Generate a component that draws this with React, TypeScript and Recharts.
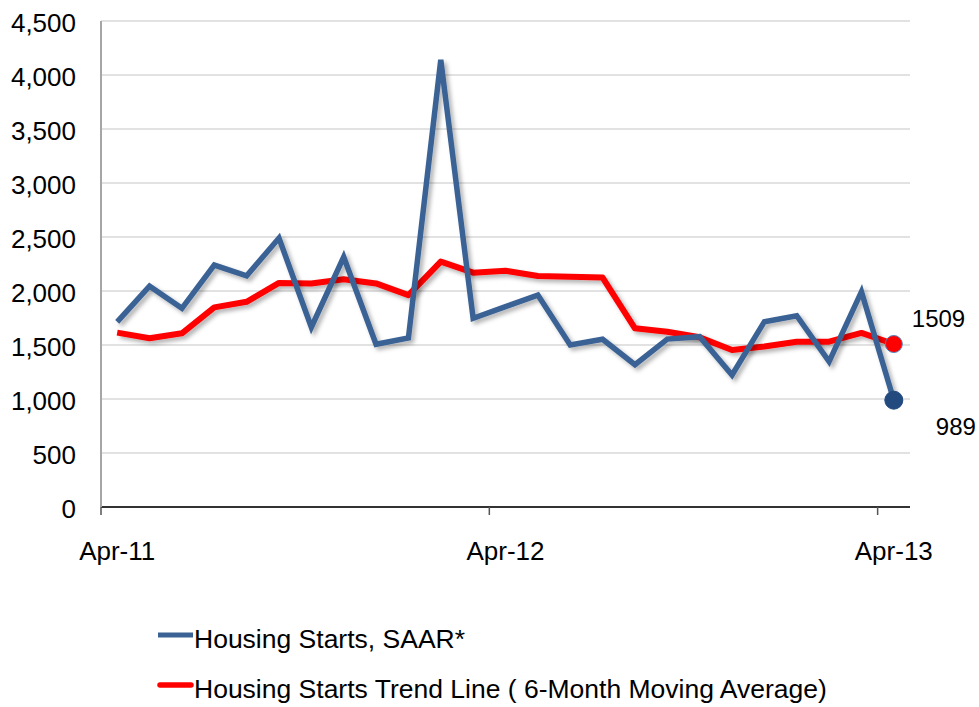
import React from 'react';
import { LineChart, Line, XAxis, YAxis, CartesianGrid } from 'recharts';

const months: string[] = [
  'Apr-11', 'May-11', 'Jun-11', 'Jul-11', 'Aug-11', 'Sep-11', 'Oct-11', 'Nov-11', 'Dec-11',
  'Jan-12', 'Feb-12', 'Mar-12', 'Apr-12', 'May-12', 'Jun-12', 'Jul-12', 'Aug-12', 'Sep-12',
  'Oct-12', 'Nov-12', 'Dec-12', 'Jan-13', 'Feb-13', 'Mar-13', 'Apr-13',
];
const housingStarts: number[] = [
  1715, 2045, 1840, 2240, 2140, 2490, 1665, 2315, 1507, 1565, 4140, 1747, 1855,
  1962, 1500, 1553, 1318, 1555, 1577, 1222, 1716, 1771, 1346, 1994, 989,
];
const trendLine: number[] = [
  1615, 1562, 1608, 1848, 1900, 2075, 2070, 2108, 2070, 1962, 2272, 2170, 2188,
  2139, 2133, 2124, 1655, 1622, 1571, 1454, 1486, 1530, 1531, 1612, 1509,
];
const xTicks: string[] = ['Apr-11', 'Apr-12', 'Apr-13'];
const yTicks: number[] = [0, 500, 1000, 1500, 2000, 2500, 3000, 3500, 4000, 4500];
const seriesNames: string[] = ['Housing Starts, SAAR*', 'Housing Starts Trend Line ( 6-Month Moving Average)'];

const data = months.map((m, i) => ({ month: m, starts: housingStarts[i], trend: trendLine[i] }));

const W = 979;
const H = 707;
const M = { top: 21, right: 69, left: 0, bottom: 140 };
const Y_W = 101;
const X_H = 60;
const plotW = W - M.left - M.right - Y_W;
const band = plotW / months.length;
const FONT = '"Liberation Sans", Arial, Helvetica, sans-serif';
const BLUE = '#3B6295';
const RED = '#FF0000';
const last = months.length - 1;

const XTick = (props: any) => {
  const { x, y, payload } = props;
  return (
    <g>
      <line x1={x - band / 2} x2={x - band / 2} y1={y} y2={y + 8} stroke="#555" strokeWidth={1.5} />
      <text x={x} y={y + 53} textAnchor="middle" fontSize={26} fontFamily={FONT} fill="#000">
        {payload.value}
      </text>
    </g>
  );
};

const YTick = (props: any) => {
  const { x, y, payload } = props;
  return (
    <text x={x} y={y + 11} textAnchor="end" fontSize={26} fontFamily={FONT} fill="#000">
      {Number(payload.value).toLocaleString('en-US')}
    </text>
  );
};

const makeDot = (fill: string, stroke: string, r: number) => (props: any) => {
  const { cx, cy, index } = props;
  if (index !== last) return <g key={`d-${index}`} />;
  return <circle key={`d-${index}`} cx={cx} cy={cy} r={r} fill={fill} stroke={stroke} strokeWidth={1} />;
};

const makeLabel = (dx: number, dy: number) => (props: any) => {
  const { x, y, value, index } = props;
  if (index !== last) return <g key={`l-${index}`} />;
  return (
    <text key={`l-${index}`} x={x + dx} y={y + dy} fontSize={24} fontFamily={FONT} fill="#000" dominantBaseline="central">
      {value}
    </text>
  );
};

export default function App() {
  return (
    <div style={{ position: 'absolute', left: 0, top: 0, width: W, height: H, background: '#fff' }}>
      <LineChart width={W} height={H} data={data} margin={M}>
        <defs>
          <filter id="lineShadow" x="-10%" y="-10%" width="120%" height="130%">
            <feDropShadow dx={3} dy={3} stdDeviation={2} floodColor="#000" floodOpacity={0.3} />
          </filter>
        </defs>
        <CartesianGrid vertical={false} stroke="#D9D9D9" strokeWidth={1.5} />
        <XAxis
          dataKey="month"
          scale="band"
          ticks={xTicks}
          interval={0}
          height={X_H}
          tickLine={false}
          tickSize={0}
          tickMargin={0}
          axisLine={{ stroke: '#333', strokeWidth: 2 }}
          tick={<XTick />}
        />
        <YAxis
          domain={[0, 4500]}
          ticks={yTicks}
          width={Y_W}
          tickLine={false}
          tickSize={0}
          tickMargin={25}
          axisLine={{ stroke: '#A6A6A6', strokeWidth: 2 }}
          tick={<YTick />}
          interval={0}
        />
        <Line
          type="linear"
          dataKey="trend"
          stroke={RED}
          strokeWidth={6}
          strokeLinejoin="round"
          filter="url(#lineShadow)"
          dot={makeDot(RED, '#4F81BD', 8.5)}
          activeDot={false}
          label={makeLabel(18, -26)}
          isAnimationActive={false}
        />
        <Line
          type="linear"
          dataKey="starts"
          stroke={BLUE}
          strokeWidth={5.5}
          filter="url(#lineShadow)"
          dot={makeDot('#234A7F', '#234A7F', 9)}
          activeDot={false}
          label={makeLabel(42, 26)}
          isAnimationActive={false}
        />
      </LineChart>
      <svg width={W} height={H} style={{ position: 'absolute', left: 0, top: 0, pointerEvents: 'none' }}>
        <line x1={158} x2={193} y1={635} y2={635} stroke={BLUE} strokeWidth={5} />
        <text x={194} y={648} fontSize={26.5} fontFamily={FONT} fill="#000">{seriesNames[0]}</text>
        <line x1={160} x2={191} y1={685} y2={685} stroke={RED} strokeWidth={5.5} strokeLinecap="round" />
        <text x={194} y={698} fontSize={26.5} fontFamily={FONT} fill="#000">{seriesNames[1]}</text>
      </svg>
    </div>
  );
}
